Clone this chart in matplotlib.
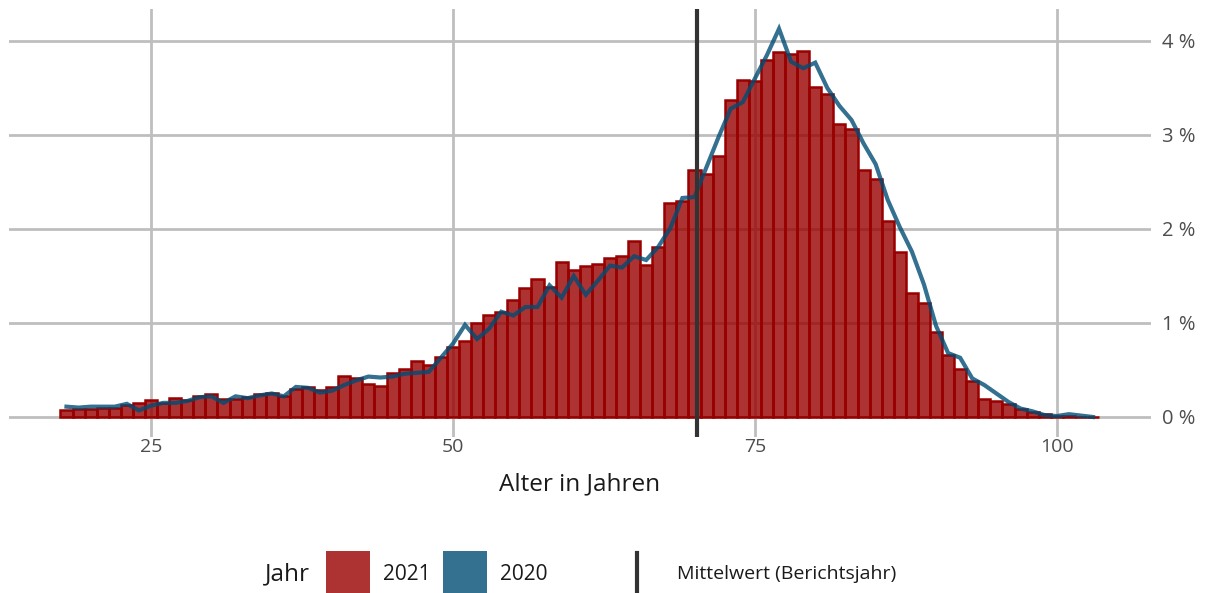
import matplotlib
matplotlib.use("Agg")
import matplotlib.pyplot as plt
import numpy as np
from matplotlib.patches import Rectangle
from matplotlib.lines import Line2D

# Altersverteilung (Anteil in %), Berichtsjahr 2021 als Balken, 2020 als Linie
ages = list(range(18, 104))
share_2021 = [
    0.07, 0.08, 0.09, 0.10, 0.10, 0.13, 0.15, 0.18, 0.15, 0.20,   # 18-27
    0.18, 0.22, 0.24, 0.19, 0.19, 0.21, 0.25, 0.26, 0.22, 0.30,   # 28-37
    0.32, 0.29, 0.32, 0.44, 0.42, 0.35, 0.33, 0.47, 0.51, 0.60,   # 38-47
    0.55, 0.64, 0.75, 0.81, 1.00, 1.09, 1.12, 1.24, 1.37, 1.47,   # 48-57
    1.38, 1.65, 1.56, 1.61, 1.63, 1.69, 1.71, 1.87, 1.62, 1.81,   # 58-67
    2.28, 2.30, 2.63, 2.59, 2.78, 3.37, 3.59, 3.57, 3.80, 3.88,   # 68-77
    3.86, 3.89, 3.51, 3.44, 3.12, 3.06, 2.63, 2.53, 2.08, 1.75,   # 78-87
    1.32, 1.21, 0.90, 0.66, 0.51, 0.38, 0.19, 0.17, 0.135, 0.085, # 88-97
    0.05, 0.03, 0.012, 0.006, 0.004, 0.003,                       # 98-103
]
share_2020 = [
    0.11, 0.10, 0.11, 0.11, 0.11, 0.14, 0.07, 0.12, 0.15, 0.15,   # 18-27
    0.17, 0.21, 0.22, 0.15, 0.22, 0.20, 0.23, 0.25, 0.22, 0.32,   # 28-37
    0.31, 0.26, 0.28, 0.34, 0.39, 0.43, 0.42, 0.43, 0.46, 0.47,   # 38-47
    0.48, 0.63, 0.78, 0.98, 0.83, 0.94, 1.12, 1.08, 1.17, 1.17,   # 48-57
    1.40, 1.27, 1.50, 1.30, 1.45, 1.61, 1.59, 1.71, 1.67, 1.81,   # 58-67
    2.01, 2.33, 2.34, 2.66, 2.98, 3.28, 3.35, 3.60, 3.85, 4.13,   # 68-77
    3.78, 3.71, 3.77, 3.50, 3.31, 3.16, 2.91, 2.69, 2.31, 2.02,   # 78-87
    1.76, 1.41, 0.97, 0.68, 0.63, 0.41, 0.34, 0.25, 0.16, 0.09,   # 88-97
    0.06, 0.02, 0.01, 0.03, 0.015, 0.0,                           # 98-103
]
mean_age = 70.2
x_ticks = [25, 50, 75, 100]
y_ticks = [0, 1, 2, 3, 4]

RED = "#990000"
BLUE = "#014C73"
GRID = "#BEBEBE"
TXT = "#4D4D4D"
FONT = ["Open Sans", "DejaVu Sans"]
plt.rcParams["font.family"] = FONT

W, H = 1205, 593
fig = plt.figure(figsize=(W / 100, H / 100), dpi=100)

# Plotbereich in Pixeln: links 8.5, rechts 1151, oben 9, unten 436.7
ax = fig.add_axes([8.5 / W, (H - 436.7) / H, (1151 - 8.5) / W, (436.7 - 9) / H])
ax.set_xlim(13.2, 107.8)
ax.set_ylim(-(436.7 - 417) / 94, (417 - 9) / 94)

ax.set_axisbelow(True)
ax.grid(True, color=GRID, linewidth=2)
for s in ax.spines.values():
    s.set_visible(False)

ax.bar(ages, share_2021, width=1, color=RED, alpha=0.8, linewidth=0, zorder=2)
ax.bar(ages, share_2021, width=1, fill=False, edgecolor=RED,
       linewidth=1.8, zorder=2)
ax.plot(ages, share_2020, color=BLUE, alpha=0.8, linewidth=3, zorder=3,
        solid_joinstyle="miter")
ax.axvline(mean_age, color="#333333", linewidth=3, zorder=4)

ax.set_xticks(x_ticks)
ax.set_yticks(y_ticks)
ax.set_yticklabels([f"{v} %" for v in y_ticks])
ax.yaxis.tick_right()
ax.tick_params(axis="x", length=0, labelsize=14, labelcolor=TXT, pad=1)
ax.tick_params(axis="y", length=0, labelsize=14.5, labelcolor=TXT, pad=8)
ax.set_xlabel("Alter in Jahren", fontsize=17.5, color="#1A1A1A", labelpad=12)

# Legende unten
def fx(px):
    return px / W

def fy(py):
    return (H - py) / H

fig.text(fx(265), fy(574), "Jahr", fontsize=17.5, color="#1A1A1A", va="center")
fig.patches.append(Rectangle((fx(326), fy(593)), fx(44), 42 / H,
                             transform=fig.transFigure, facecolor=RED,
                             alpha=0.8, linewidth=0))
fig.text(fx(383), fy(574), "2021", fontsize=15, color="#1A1A1A", va="center")
fig.patches.append(Rectangle((fx(443), fy(593)), fx(44), 42 / H,
                             transform=fig.transFigure, facecolor=BLUE,
                             alpha=0.8, linewidth=0))
fig.text(fx(500), fy(574), "2020", fontsize=15, color="#1A1A1A", va="center")
fig.lines.append(Line2D([fx(637), fx(637)], [fy(593), fy(553)],
                        transform=fig.transFigure, color="#333333", linewidth=3))
fig.text(fx(677), fy(574), "Mittelwert (Berichtsjahr)", fontsize=14,
         color="#1A1A1A", va="center")

fig.savefig("out.png", dpi=100)
